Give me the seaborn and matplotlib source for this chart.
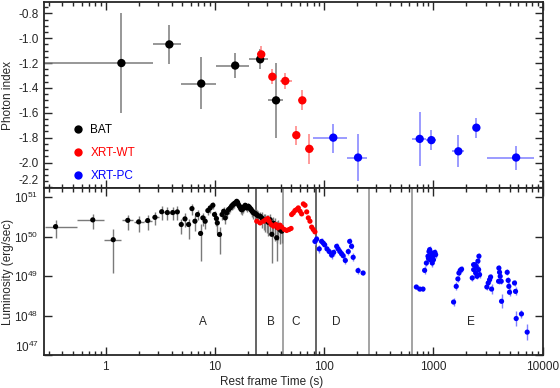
import matplotlib

matplotlib.use("Agg")
import matplotlib.pyplot as plt
import numpy as np
import pandas as pd
import seaborn as sns
from matplotlib.ticker import (FuncFormatter, LogFormatterMathtext, LogLocator,
                               MultipleLocator, NullFormatter)

# ---- top panel: photon index per time bin ----
bat_t = [1.39, 3.82, 7.48, 15.3, 25.9, 36.2]
bat_t_lo = [0.27, 2.73, 4.91, 10.3, 20.5, 30.6]
bat_t_hi = [2.73, 4.91, 10.3, 20.5, 30.6, 42.0]
bat_gamma = [-1.20, -1.05, -1.365, -1.22, -1.17, -1.50]
bat_gamma_lo = [-1.60, -1.21, -1.57, -1.32, -1.25, -1.80]
bat_gamma_hi = [-0.80, -0.89, -1.155, -1.12, -1.09, -1.20]

wt_t = [26.5, 33.5, 44.0, 55.5, 63.0, 73.0]
wt_t_lo = [24.0, 31.0, 39.5, 52.0, 58.0, 66.0]
wt_t_hi = [28.5, 37.0, 51.0, 59.0, 68.0, 81.0]
wt_gamma = [-1.13, -1.31, -1.344, -1.78, -1.50, -1.89]
wt_gamma_lo = [-1.19, -1.37, -1.41, -1.86, -1.575, -2.01]
wt_gamma_hi = [-1.06, -1.25, -1.28, -1.71, -1.42, -1.77]

pc_t = [121, 204, 748, 957, 1690, 2470, 5710]
pc_t_lo = [79.5, 162, 641, 861, 1480, 2340, 3100]
pc_t_hi = [163, 247, 855, 1064, 1890, 2640, 8400]
pc_gamma = [-1.80, -1.96, -1.81, -1.82, -1.91, -1.72, -1.96]
pc_gamma_lo = [-1.92, -2.15, -2.03, -1.90, -2.04, -1.80, -2.06]
pc_gamma_hi = [-1.69, -1.77, -1.59, -1.74, -1.78, -1.64, -1.87]

# ---- bottom panel: luminosity light curve ----
bat_lc_t = [0.347, 0.76, 1.17, 1.59, 2.0, 2.42, 2.82, 3.25, 3.66, 4.1,
            4.52, 4.91, 5.31, 5.73, 6.15, 6.55, 6.92, 7.38, 7.74, 8.13,
            8.6, 9.04, 9.56, 9.9, 10.3, 10.5, 11.0, 11.6, 12.0, 12.4,
            12.8, 13.3, 13.8, 14.2, 14.6, 15.0, 15.3, 15.8, 16.1, 16.4,
            16.7, 17.0, 17.3, 17.6, 17.9, 18.2, 18.5, 18.9, 19.2, 19.5,
            19.8, 20.2, 20.6, 21.0, 21.3, 21.7, 22.0, 22.5, 23.0, 23.5,
            24.1, 24.8, 25.9, 26.8, 27.8, 28.8, 29.8, 30.8, 32.0, 33.1,
            34.3, 35.5, 36.7, 37.3, 38.0, 39.4, 40.8]
bat_lc_lum = [1.8e50, 2.67e50, 8.4e49, 2.6e50, 2.38e50, 2.57e50, 3.1e50, 4.3e50, 4.1e50, 4.1e50,
              4.26e50, 2.04e50, 2.83e50, 2.04e50, 5.16e50, 2.47e50, 3.65e50, 1.21e50, 3.0e50, 2.47e50,
              4.6e50, 5.37e50, 6.27e50, 3.65e50, 2.89e50, 2.24e50, 1.14e50, 3.65e50, 4.42e50, 3.0e50,
              4.02e50, 4.88e50, 5.37e50, 6.0e50, 6.5e50, 6.9e50, 7.2e50, 7.9e50, 7.4e50, 6.5e50,
              6.0e50, 5.6e50, 5.0e50, 4.8e50, 5.1e50, 5.37e50, 5.8e50, 6.27e50, 5.9e50, 5.37e50,
              5.5e50, 5.9e50, 5.6e50, 5.2e50, 4.9e50, 4.6e50, 4.4e50, 4.02e50, 4.0e50, 3.8e50,
              3.6e50, 3.4e50, 3.3e50, 3.0e50, 2.7e50, 2.6e50, 2.5e50, 2.3e50, 2.7e50, 1.15e50,
              2.2e50, 2.0e50, 9.4e49, 1.7e50, 1.85e50, 1.5e50, 1.38e50]
# error bars in dex (down, up)
bat_lc_dn = [0.30, 0.24, 0.85, 0.24, 0.26, 0.25, 0.20, 0.20, 0.20, 0.20,
             0.20, 0.25, 0.20, 0.38, 0.15, 0.25, 0.15, 0.70, 0.20, 0.20,
             0.12, 0.12, 0.10, 0.15, 0.20, 0.25, 0.50, 0.15, 0.12, 0.15,
             0.12, 0.12, 0.10, 0.10, 0.10, 0.10, 0.08, 0.08, 0.08, 0.10,
             0.10, 0.10, 0.12, 0.12, 0.10, 0.10, 0.10, 0.08, 0.10, 0.10,
             0.10, 0.10, 0.10, 0.12, 0.12, 0.12, 0.15, 0.15, 0.15, 0.18,
             0.18, 0.20, 0.20, 0.25, 0.25, 0.30, 0.30, 0.35, 0.30, 0.72,
             0.35, 0.40, 0.60, 0.40, 0.35, 0.35, 0.30]
bat_lc_up = [0.16, 0.16, 0.26, 0.14, 0.14, 0.15, 0.13, 0.14, 0.14, 0.14,
             0.14, 0.15, 0.15, 0.15, 0.12, 0.15, 0.12, 0.25, 0.12, 0.12,
             0.10, 0.10, 0.08, 0.10, 0.12, 0.15, 0.20, 0.10, 0.10, 0.10,
             0.10, 0.08, 0.08, 0.08, 0.08, 0.07, 0.07, 0.07, 0.07, 0.08,
             0.08, 0.08, 0.08, 0.08, 0.08, 0.08, 0.08, 0.07, 0.08, 0.08,
             0.08, 0.08, 0.08, 0.08, 0.10, 0.10, 0.10, 0.10, 0.10, 0.12,
             0.12, 0.12, 0.12, 0.15, 0.15, 0.15, 0.15, 0.18, 0.15, 0.25,
             0.15, 0.18, 0.25, 0.18, 0.15, 0.15, 0.15]
# time bins of the first (sparse) BAT points
bat_lc_bin_lo = [0.277, 0.55, 0.97, 1.40, 1.80, 2.22, 2.63, 3.05, 3.45, 3.88]
bat_lc_bin_hi = [0.55, 0.97, 1.38, 1.79, 2.22, 2.63, 3.05, 3.45, 3.88, 4.3]

wt_lc_t = [24.1, 25.9, 27.8, 29.2, 30.4, 31.3, 32.6, 34.3, 36.0, 37.5,
           39.4, 40.8, 43.2, 45.3, 47.6, 49.7, 50.3, 52.1, 54.0, 55.9,
           57.9, 60.0, 62.1, 64.4, 66.7, 69.1, 71.5, 74.0, 76.7, 79.4, 82.2]
wt_lc_lum = [2.47e50, 2.24e50, 2.47e50, 2.72e50, 2.89e50, 2.47e50, 2.04e50, 1.85e50, 2.04e50, 1.68e50,
             1.96e50, 1.75e50, 1.52e50, 1.44e50, 1.52e50, 1.62e50, 3.65e50, 4.02e50, 4.6e50, 4.88e50,
             5.37e50, 4.42e50, 3.79e50, 6.78e50, 6.27e50, 4.26e50, 3.0e50, 2.47e50, 1.75e50, 1.52e50, 1.33e50]

pc_lc_t = [82.2, 85.2, 90.0, 94.5, 97.9, 101, 106, 111, 117, 122,
           130, 134, 139, 144, 149, 156, 166, 171, 178, 184, 204, 227,
           697, 748, 802, 830, 861, 891, 910, 923, 936, 962,
           975, 989, 1018, 1047, 900, 950, 1000, 1030,
           1528, 1616, 1673, 1710, 1758, 1808,
           2265, 2330, 2333, 2384, 2434, 2467, 2502, 2553, 2590, 2607, 2642,
           3081, 3170, 3263, 3334, 3404,
           3945, 3970, 4027, 4083, 4172, 4200,
           4732, 4830, 4900, 4970,
           5520, 5640, 5720, 6390, 7210]
pc_lc_lum = [7.6e49, 8.7e49, 4.9e49, 7.6e49, 6.9e49, 6.2e49, 4.9e49, 4.2e49, 3.4e49, 4.0e49,
             5.7e49, 4.9e49, 4.2e49, 3.7e49, 3.3e49, 2.5e49, 4.2e49, 7.6e49, 5.7e49, 3.0e49, 1.38e49, 1.2e49,
             5.3e48, 4.7e48, 4.7e48, 1.4e49, 2.15e49, 3.2e49, 4.2e49, 4.7e49, 2.6e49, 3.85e49,
             2.15e49, 3.2e49, 3.7e49, 3.5e49, 2.8e49, 3.0e49, 2.6e49, 4.0e49,
             2.2e48, 5.5e48, 8.5e48, 1.2e49, 1.4e49, 1.5e49,
             9.0e48, 1.95e49, 1.46e49, 1.95e49, 1.2e49, 1.77e49, 9.9e48, 2.4e49, 1.46e49, 3.2e49, 1.09e49,
             5.3e48, 6.7e48, 8.1e48, 9.5e48, 4.7e48,
             7.4e48, 1.6e49, 1.25e49, 9.9e48, 7.4e48, 2.3e48,
             1.25e49, 7.8e48, 5.5e48, 3.9e48,
             6.7e48, 4.1e48, 8.4e47, 1.1e48, 3.8e47]
pc_lc_err = [0.08, 0.08, 0.10, 0.08, 0.08, 0.08, 0.08, 0.08, 0.10, 0.08,
             0.08, 0.08, 0.08, 0.08, 0.08, 0.10, 0.08, 0.08, 0.08, 0.10, 0.08, 0.06,
             0.06, 0.06, 0.06, 0.10, 0.08, 0.08, 0.08, 0.08, 0.08, 0.08,
             0.10, 0.08, 0.08, 0.08, 0.08, 0.08, 0.08, 0.08,
             0.10, 0.10, 0.08, 0.08, 0.08, 0.08,
             0.08, 0.08, 0.08, 0.08, 0.08, 0.08, 0.08, 0.08, 0.08, 0.08, 0.08,
             0.08, 0.08, 0.08, 0.08, 0.12,
             0.08, 0.08, 0.08, 0.08, 0.08, 0.18,
             0.08, 0.08, 0.10, 0.10,
             0.08, 0.10, 0.18, 0.10, 0.20]

# segment boundaries and labels
seg_edges = [23.8, 41.7, 83.7, 257, 641]
seg_edge_colors = ["#3a3a3a", "#8a8a8a", "#3a3a3a", "#8a8a8a", "#8a8a8a"]
seg_names = ["A", "B", "C", "D", "E"]
seg_label_t = [7.7, 32.6, 55.0, 130, 2190]
seg_label_lum = 6.8e47

COLORS = {"BAT": "black", "XRT-WT": "red", "XRT-PC": "blue"}
ERR_COLORS = {"BAT": "#7a7a7a", "XRT-WT": "#ff8080", "XRT-PC": "#8080ff"}


def style_axis(ax):
    for spine in ax.spines.values():
        spine.set_linewidth(1.3)
        spine.set_visible(True)
    ax.tick_params(which="both", direction="in", top=True, right=True,
                   labelsize=8.5, width=1.0)
    ax.tick_params(which="major", length=5.5, pad=4)
    ax.tick_params(which="minor", length=3)


def main() -> None:
    sns.set_style("ticks")
    plt.rcParams["font.family"] = ["Liberation Sans", "DejaVu Sans"]
    plt.rcParams["axes.unicode_minus"] = False
    plt.rcParams["mathtext.fontset"] = "custom"
    plt.rcParams["mathtext.rm"] = "Liberation Sans"

    fig = plt.figure(figsize=(5.6, 3.88), dpi=100)
    ax_top = fig.add_axes([0.0786, 0.5155, 0.8905, 0.4793])
    ax_bot = fig.add_axes([0.0786, 0.0851, 0.8905, 0.4304], sharex=ax_top)

    # ---- top panel ----
    gamma_sets = [
        ("BAT", bat_t, bat_t_lo, bat_t_hi, bat_gamma, bat_gamma_lo, bat_gamma_hi),
        ("XRT-WT", wt_t, wt_t_lo, wt_t_hi, wt_gamma, wt_gamma_lo, wt_gamma_hi),
        ("XRT-PC", pc_t, pc_t_lo, pc_t_hi, pc_gamma, pc_gamma_lo, pc_gamma_hi),
    ]
    frames = []
    for name, t, t_lo, t_hi, g, g_lo, g_hi in gamma_sets:
        t, t_lo, t_hi = map(np.asarray, (t, t_lo, t_hi))
        g, g_lo, g_hi = map(np.asarray, (g, g_lo, g_hi))
        ax_top.errorbar(t, g, xerr=[t - t_lo, t_hi - t], yerr=[g - g_lo, g_hi - g],
                        fmt="none", ecolor=ERR_COLORS[name], elinewidth=1.1, zorder=1)
        frames.append(pd.DataFrame({"instrument": name, "time": t, "gamma": g}))
    gamma_df = pd.concat(frames, ignore_index=True)
    sns.scatterplot(data=gamma_df, x="time", y="gamma", hue="instrument",
                    palette=COLORS, s=36, linewidth=0, ax=ax_top, zorder=3)

    ax_top.set_xscale("log")
    ax_top.set_xlim(0.272, 10000)
    ax_top.set_ylim(-2.205, -0.709)
    ax_top.yaxis.set_major_locator(MultipleLocator(0.2))
    ax_top.yaxis.set_minor_locator(MultipleLocator(0.05))
    ax_top.yaxis.set_major_formatter(FuncFormatter(lambda v, _: f"{v:.1f}"))
    ax_top.set_xlabel("")
    ax_top.set_ylabel("Photon index", fontsize=8.5)
    ax_top.yaxis.set_label_coords(-0.061, 0.5)
    style_axis(ax_top)
    ax_top.tick_params(axis="x", which="both", labelbottom=False)

    leg = ax_top.legend(title=None, loc="center left", bbox_to_anchor=(0.056, 0.188),
                        frameon=False, fontsize=8.5, handlelength=1.0,
                        handletextpad=0.55, labelspacing=0.9, borderpad=0,
                        borderaxespad=0)
    for text in leg.get_texts():
        text.set_color(COLORS[text.get_text()])

    # ---- bottom panel ----
    bt = np.asarray(bat_lc_t)
    bl = np.asarray(bat_lc_lum)
    b_dn = bl * (1 - 10 ** -np.asarray(bat_lc_dn))
    b_up = bl * (10 ** np.asarray(bat_lc_up) - 1)
    ax_bot.errorbar(bt, bl, yerr=[b_dn, b_up], fmt="none", ecolor=ERR_COLORS["BAT"],
                    elinewidth=1.0, zorder=1)
    n_bin = len(bat_lc_bin_lo)
    ax_bot.errorbar(bt[:n_bin], bl[:n_bin],
                    xerr=[bt[:n_bin] - np.asarray(bat_lc_bin_lo),
                          np.asarray(bat_lc_bin_hi) - bt[:n_bin]],
                    fmt="none", ecolor=ERR_COLORS["BAT"], elinewidth=1.0, zorder=1)

    pt = np.asarray(pc_lc_t)
    pl = np.asarray(pc_lc_lum)
    p_err = np.asarray(pc_lc_err)
    ax_bot.errorbar(pt, pl, yerr=[pl * (1 - 10 ** -p_err), pl * (10 ** p_err - 1)],
                    fmt="none", ecolor=ERR_COLORS["XRT-PC"], elinewidth=1.0, zorder=1)

    lc_df = pd.concat([
        pd.DataFrame({"instrument": "BAT", "time": bat_lc_t, "lum": bat_lc_lum}),
        pd.DataFrame({"instrument": "XRT-WT", "time": wt_lc_t, "lum": wt_lc_lum}),
        pd.DataFrame({"instrument": "XRT-PC", "time": pc_lc_t, "lum": pc_lc_lum}),
    ], ignore_index=True)
    sns.scatterplot(data=lc_df, x="time", y="lum", hue="instrument", palette=COLORS,
                    s=14, linewidth=0, legend=False, ax=ax_bot, zorder=3)

    for edge, color in zip(seg_edges, seg_edge_colors):
        ax_bot.axvline(edge, color=color, lw=1.1, zorder=0)
    for name, t in zip(seg_names, seg_label_t):
        ax_bot.text(t, seg_label_lum, name, ha="center", va="center", fontsize=8.5)

    ax_bot.set_xscale("log")
    ax_bot.set_yscale("log")
    ax_bot.set_xlim(0.272, 10000)
    ax_bot.set_ylim(1e47, 1.72e51)
    ax_bot.yaxis.set_major_locator(LogLocator(base=10, numticks=10))
    ax_bot.yaxis.set_minor_locator(LogLocator(base=10, subs=(), numticks=10))
    ax_bot.yaxis.set_major_formatter(LogFormatterMathtext())
    ax_bot.yaxis.set_minor_formatter(NullFormatter())
    ax_bot.xaxis.set_major_locator(LogLocator(base=10, numticks=10))
    ax_bot.xaxis.set_minor_locator(LogLocator(base=10, subs=np.arange(2, 10), numticks=10))
    ax_bot.xaxis.set_major_formatter(FuncFormatter(lambda v, _: f"{v:g}"))
    ax_bot.xaxis.set_minor_formatter(NullFormatter())
    ax_bot.set_xlabel("Rest frame Time (s)", fontsize=8.5)
    ax_bot.set_ylabel("Luminosity (erg/sec)", fontsize=8.5)
    ax_bot.yaxis.set_label_coords(-0.061, 0.5)
    ax_bot.xaxis.set_label_coords(0.457, -0.125)
    style_axis(ax_bot)
    ax_top.tick_params(axis="x", which="both", labelbottom=False)

    # lift the edge tick labels so the two panels' labels do not collide
    fig.canvas.draw()
    for label in ax_top.get_yticklabels():
        if label.get_text() == "-2.2":
            label.set_va("bottom")
    for tick in ax_bot.yaxis.get_major_ticks():
        if abs(tick.get_loc() - 1e47) < 1e45:
            tick.label1.set_va("bottom")

    fig.savefig("out.png", dpi=100)
    plt.close(fig)


if __name__ == "__main__":
    main()
